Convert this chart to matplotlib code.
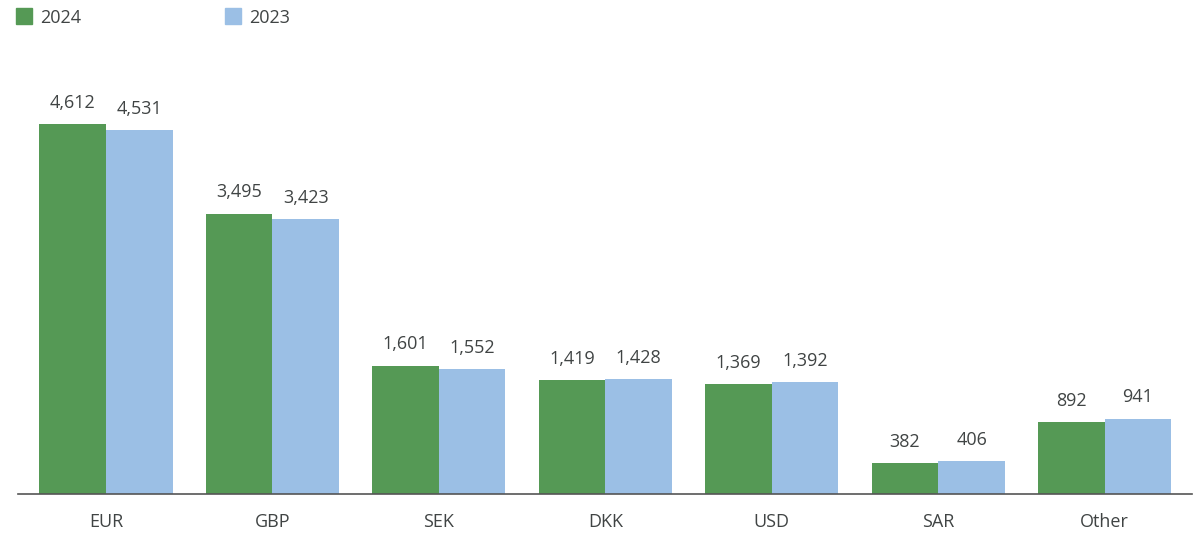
import matplotlib
matplotlib.use("Agg")
import matplotlib.pyplot as plt
import numpy as np
from matplotlib.patches import Rectangle

categories = ["EUR", "GBP", "SEK", "DKK", "USD", "SAR", "Other"]
values_2024 = [4612, 3495, 1601, 1419, 1369, 382, 892]
values_2023 = [4531, 3423, 1552, 1428, 1392, 406, 941]
series_labels = ["2024", "2023"]

green = "#559955"
blue = "#9bbfe5"
text_color = "#404444"

plt.rcParams["font.family"] = ["Open Sans", "DejaVu Sans"]

fig = plt.figure(figsize=(12.04, 5.33), dpi=100)
W, H = 1204, 533
left, right, bottom, top = 18, 1192, 533 - 494, 533 - 60
ax = fig.add_axes([left / W, bottom / H, (right - left) / W, (top - bottom) / H])

x = np.arange(len(categories))
bw = 0.4
b1 = ax.bar(x - bw / 2, values_2024, bw, color=green)
b2 = ax.bar(x + bw / 2, values_2023, bw, color=blue)

ymax = (494 - 60) / (370 / 4612)
ax.set_ylim(0, ymax)
ax.set_xlim(-0.5 - 4.75 / 166.5, len(categories) - 0.5 + 4 / 166.5)

for bars, vals in ((b1, values_2024), (b2, values_2023)):
    for rect, v in zip(bars, vals):
        ax.annotate(f"{v:,}", (rect.get_x() + rect.get_width() / 2, v),
                    xytext=(0, 9), textcoords="offset points",
                    ha="center", va="bottom", fontsize=13, color=text_color)

ax.set_xticks(x)
ax.set_xticklabels(categories, fontsize=13, color=text_color)
ax.tick_params(axis="x", length=0, pad=14)
ax.set_yticks([])
for s in ("top", "right", "left"):
    ax.spines[s].set_visible(False)
ax.spines["bottom"].set_color("#555555")
ax.spines["bottom"].set_linewidth(1.2)

# legend drawn in figure pixels
for px, color, label in ((16, green, series_labels[0]), (225, blue, series_labels[1])):
    fig.patches.append(Rectangle((px / W, (533 - 24) / H), 16 / W, 16 / H,
                                 transform=fig.transFigure, color=color))
    fig.text((px + 24) / W, (533 - 18) / H, label, fontsize=13,
             color=text_color, va="center", ha="left")

fig.savefig("out.png", dpi=100)
